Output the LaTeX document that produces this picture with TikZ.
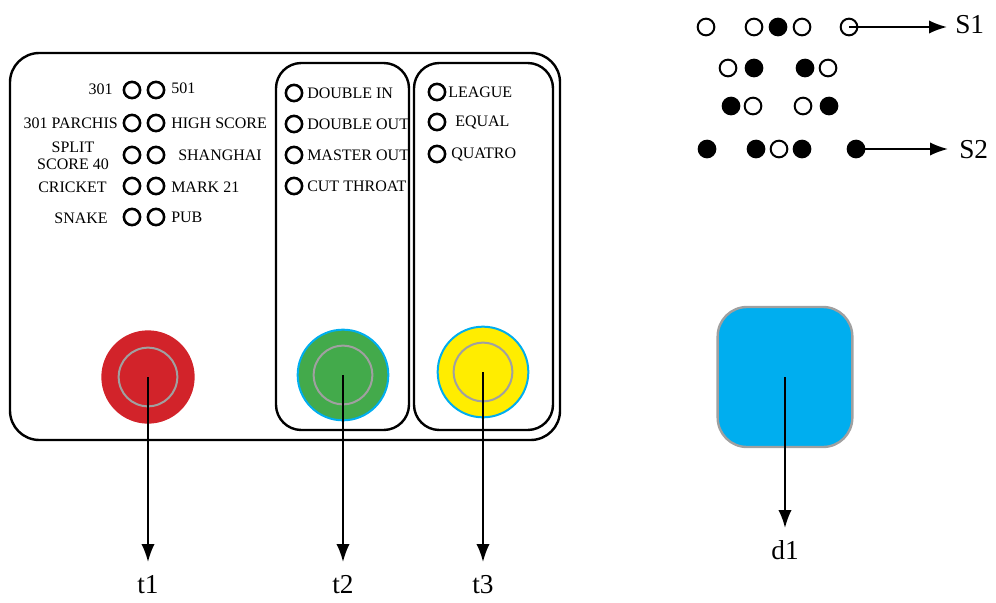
\documentclass[tikz,border=0pt]{standalone}
\usepackage{fontspec}
\setmainfont{Liberation Serif}
\usetikzlibrary{arrows.meta}
\definecolor{cyanb}{RGB}{0,174,239}
\definecolor{redb}{RGB}{210,35,42}
\definecolor{greenb}{RGB}{67,170,75}
\definecolor{yellowb}{RGB}{255,237,0}
\definecolor{grayring}{RGB}{160,160,160}
\begin{document}
\begin{tikzpicture}[x=0.75pt,y=-0.75pt,
  panel/.style={draw=black,line width=1.8pt},
  sel/.style={circle,draw=black,line width=1.9pt,minimum size=12.2pt,inner sep=0pt},
  dotw/.style={circle,draw=black,line width=1.5pt,minimum size=12.5pt,inner sep=0pt,fill=white},
  dotb/.style={circle,draw=black,line width=1.5pt,minimum size=12.5pt,inner sep=0pt,fill=black},
  lbl/.style={font=\fontsize{12}{12.8}\selectfont,inner sep=0pt},
  big/.style={font=\fontsize{20.5}{22}\selectfont,inner sep=0pt},
  button/.style={circle,minimum size=70pt,inner sep=0pt},
  ring/.style={circle,draw=grayring,line width=1.5pt,minimum size=44pt,inner sep=0pt},
  arr/.style={line width=1.5pt,-{Latex[length=13.5pt,width=10pt]}}]
\useasboundingbox (0,0) rectangle (996,603);

% panels
\draw[panel,rounded corners=22pt] (10,53) rectangle (560,440);
\draw[panel,rounded corners=19pt] (276,63) rectangle (409,430);
\draw[panel,rounded corners=19pt] (414,63) rectangle (553,430);

% left selector pairs
\foreach \n/\y in {1/90,2/123,3/155,4/186,5/217}{
  \node[sel] (la\n) at (132,\y) {};
  \node[sel] (lb\n) at (156,\y) {};
}
\node[lbl,anchor=east] (g301) at (113,89) {301};
\node[lbl,anchor=east] (gparchis) at (118,123) {301 PARCHIS};
\node[lbl,align=center] (gsplit) at (73,156) {SPLIT\\SCORE 40};
\node[lbl,anchor=east] (gcricket) at (107,187) {CRICKET};
\node[lbl,anchor=east] (gsnake) at (108,218) {SNAKE};
\node[lbl,anchor=west] (g501) at (171,88) {501};
\node[lbl,anchor=west] (ghigh) at (171,123) {HIGH SCORE};
\node[lbl,anchor=west] (gshang) at (178,155) {SHANGHAI};
\node[lbl,anchor=west] (gmark) at (171,187) {MARK 21};
\node[lbl,anchor=west] (gpub) at (171,217) {PUB};

% middle panel options
\foreach \n/\y/\t in {1/93/DOUBLE IN,2/124/DOUBLE OUT,3/155/MASTER OUT,4/186/CUT THROAT}{
  \node[sel] (ma\n) at (294,\y) {};
  \node[lbl,anchor=west] (mt\n) at (307,\y) {\t};
}
% right panel options
\foreach \n/\y/\x/\t in {1/92/448/LEAGUE,2/122/455/EQUAL,3/154/451/QUATRO}{
  \node[sel] (ra\n) at (437,\y) {};
  \node[lbl,anchor=west] (rt\n) at (\x,\y) {\t};
}

% buttons
\node[button,fill=redb] (b1) at (148,377) {};
\node[ring] (r1) at (148,377) {};
\node[button,fill=greenb,draw=cyanb,line width=1.5pt,minimum size=68pt] (b2) at (343,375) {};
\node[ring] (r2) at (343,375) {};
\node[button,fill=yellowb,draw=cyanb,line width=1.5pt,minimum size=68pt] (b3) at (483,372) {};
\node[ring] (r3) at (483,372) {};

\node[big] (t1) at (148,585) {t1};
\node[big] (t2) at (343,585) {t2};
\node[big] (t3) at (483,585) {t3};
\coordinate (e1) at (148,562);
\coordinate (e2) at (343,562);
\coordinate (e3) at (483,562);
\draw[arr] (b1.center) -- (e1);
\draw[arr] (b2.center) -- (e2);
\draw[arr] (b3.center) -- (e3);

% blue square
\node[draw=grayring,line width=1.8pt,fill=cyanb,rounded corners=22pt,minimum width=101pt,minimum height=105pt,inner sep=0pt] (sq) at (785,377) {};
\node[big] (d1) at (785,550) {d1};
\coordinate (ed) at (785,528);
\draw[arr] (sq.center) -- (ed);

% top right dots
\node[dotw] (p11) at (706,27) {};
\node[dotw] (p12) at (754,27) {};
\node[dotb] (p13) at (778,27) {};
\node[dotw] (p14) at (802,27) {};
\node[dotw] (p15) at (849,27) {};
\node[dotw] (p21) at (728,68) {};
\node[dotb] (p22) at (754,68) {};
\node[dotb] (p23) at (805,68) {};
\node[dotw] (p24) at (828,68) {};
\node[dotb] (p31) at (731,106) {};
\node[dotw] (p32) at (753,106) {};
\node[dotw] (p33) at (803,106) {};
\node[dotb] (p34) at (829,106) {};
\node[dotb] (p41) at (707,149) {};
\node[dotb] (p42) at (756,149) {};
\node[dotw] (p43) at (779,149) {};
\node[dotb] (p44) at (802,149) {};
\node[dotb] (p45) at (856,149) {};

\node[big,anchor=west] (s1) at (955,25) {S1};
\node[big,anchor=west] (s2) at (959,150) {S2};
\coordinate (es1) at (947,27);
\coordinate (es2) at (948,149);
\draw[arr] (p15.center) -- (es1);
\draw[arr] (p45.center) -- (es2);
\end{tikzpicture}
\end{document}
